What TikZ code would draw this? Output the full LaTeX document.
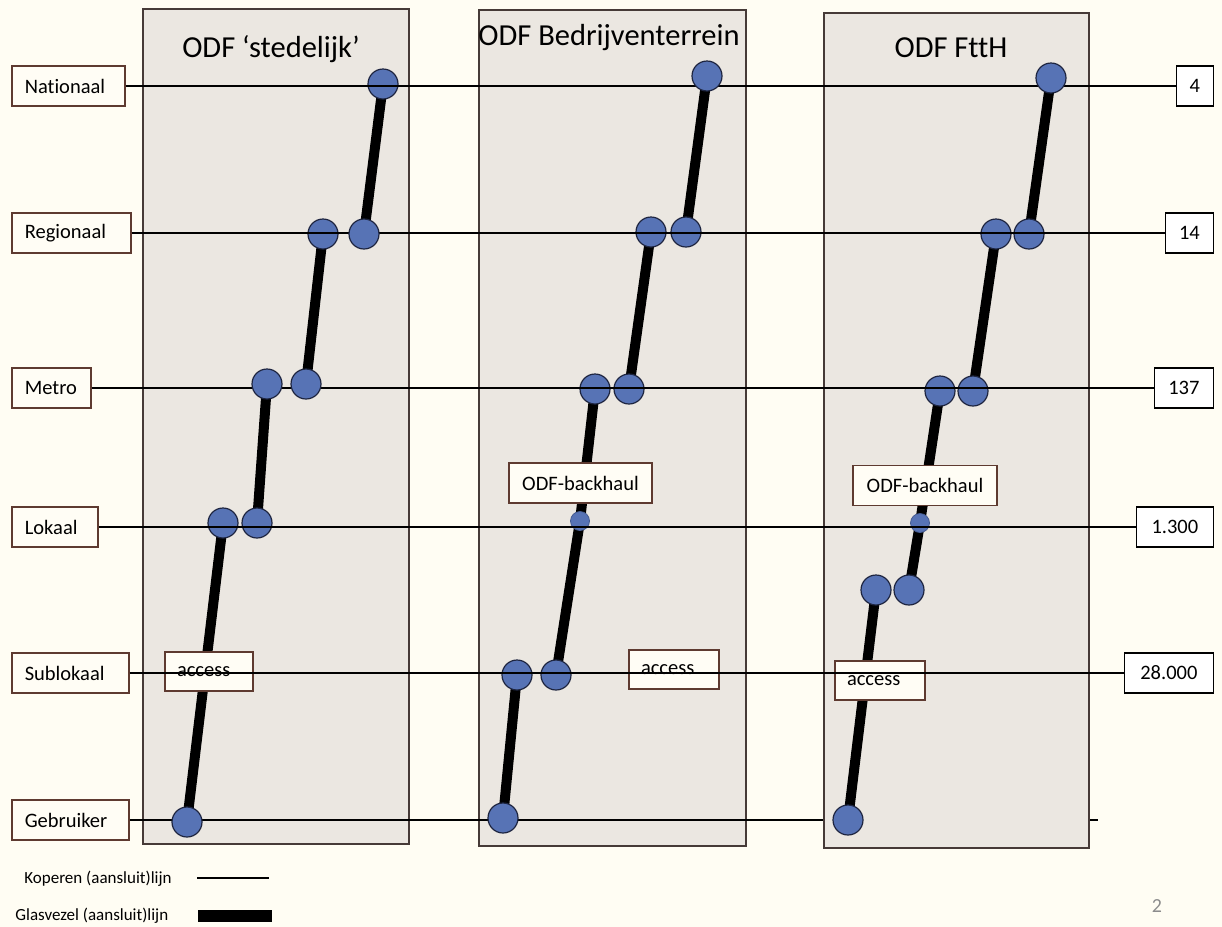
\documentclass[tikz,border=0pt]{standalone}
\usepackage{fontspec}
\setmainfont{Carlito}[Ligatures=NoCommon]
\usetikzlibrary{calc}

\definecolor{bgcream}{HTML}{FFFDF3}
\definecolor{panelfill}{HTML}{EBE7E1}
\definecolor{panelline}{HTML}{463A37}
\definecolor{lblline}{HTML}{5E3A30}
\definecolor{boxfill}{HTML}{FFFDF5}
\definecolor{hubfill}{HTML}{5773B5}
\definecolor{hubline}{HTML}{1E2540}
\definecolor{pagegray}{HTML}{8C8C8C}

\pgfdeclarelayer{panels}
\pgfdeclarelayer{fibrelayer}
\pgfdeclarelayer{copperlayer}
\pgfdeclarelayer{toplayer}
\pgfsetlayers{panels,fibrelayer,main,copperlayer,toplayer}

\begin{document}
\begin{tikzpicture}[x=0.5pt,y=-0.5pt,
  panel/.style={draw=panelline,fill=panelfill,line width=1pt,inner sep=0pt},
  lvl/.style={draw=lblline,fill=boxfill,line width=0.8pt,inner xsep=6.5pt,inner ysep=0pt,
    minimum height=20pt,anchor=west,align=left,font=\fontsize{10.25pt}{12pt}\selectfont},
  numbox/.style={draw=black,fill=white,line width=0.6pt,inner sep=0pt,
    minimum height=20pt,anchor=east,font=\fontsize{10.25pt}{12pt}\selectfont},
  tagbox/.style={draw=lblline,fill=boxfill,line width=0.8pt,inner xsep=6pt,inner ysep=0pt,
    minimum height=19.5pt,align=left,font=\fontsize{10.25pt}{12pt}\selectfont},
  bhbox/.style={draw=lblline,fill=boxfill,line width=0.8pt,inner sep=0pt,
    minimum height=20pt,font=\fontsize{10.25pt}{12pt}\selectfont},
  hub/.style={circle,fill=hubfill,draw=hubline,line width=0.6pt,inner sep=0pt,minimum size=15pt},
  minihub/.style={circle,fill=hubfill,draw=hubfill!80!black,line width=0.4pt,inner sep=0pt,minimum size=9.5pt},
  fibre/.style={line width=5pt,black},
  copper/.style={line width=0.75pt,black},
  paneltitle/.style={anchor=base,font=\fontsize{15.25pt}{18pt}\selectfont},
  legendtext/.style={anchor=west,inner sep=0pt,font=\fontsize{8.5pt}{10pt}\selectfont}
]

% page and the three ODF panels
\begin{pgfonlayer}{panels}
  \fill[bgcream] (0,0) rectangle (1222,927);
  \node[panel,minimum width=133pt,minimum height=417.5pt] (p1) at (276,426.5) {};
  \node[panel,minimum width=133.5pt,minimum height=418pt] (p2) at (612.5,428) {};
  \node[panel,minimum width=132.5pt,minimum height=417.5pt] (p3) at (956.5,430.5) {};
\end{pgfonlayer}
\useasboundingbox (0,0) rectangle (1222,927);

% panel titles
\node[paneltitle] (t1) at (271,57) {ODF ‘stedelijk’};
\node[paneltitle] (t2) at (609,45) {ODF Bedrijventerrein};
\node[paneltitle] (t3) at (951,57) {ODF FttH};

% network levels (left)
\node[lvl,text width=43.5pt] (nat) at (11,86) {Nationaal};
\node[lvl,text width=46.5pt] (reg) at (11,233) {Regionaal};
\node[lvl,text width=26.5pt] (met) at (11,388) {Metro};
\node[lvl,text width=30pt]   (lok) at (11,527) {Lokaal};
\node[lvl,text width=45.5pt] (sub) at (11,673) {Sublokaal};
\node[lvl,text width=45.5pt] (geb) at (11,820) {Gebruiker};

% counts per level (right)
\node[numbox,minimum width=18.5pt] (n-nat) at (1214,86) {4};
\node[numbox,minimum width=24pt]   (n-reg) at (1214,233) {14};
\node[numbox,minimum width=29.5pt] (n-met) at (1214,388) {137};
\node[numbox,minimum width=38.5pt] (n-lok) at (1214,527) {1.300};
\node[numbox,minimum width=44.5pt] (n-sub) at (1214,673) {28.000};

% hubs with the level line drawn across them
\node[hub] (a-nat) at (383,84) {};
\node[hub] (a-ra) at (323,234) {};
\node[hub] (a-lb) at (257,523) {};
\node[hub] (a-la) at (223,523) {};

\node[hub] (b-rb) at (686,232) {};
\node[hub] (b-ra) at (651,232) {};
\node[hub] (b-mb) at (629,389) {};
\node[hub] (b-ma) at (595,389) {};
\node[minihub] (b-lok) at (580,521) {};
\node[hub] (b-sb) at (556,675) {};
\node[hub] (b-sa) at (517,675) {};

\node[hub] (c-rb) at (1029,234) {};
\node[hub] (c-ra) at (996,234) {};
\node[hub] (c-mb) at (973,391) {};
\node[hub] (c-ma) at (940,391) {};
\node[minihub] (c-lok) at (920,523) {};
\node[hub] (c-pb) at (909,590) {};
\node[hub] (c-pa) at (876,590) {};

% hubs that sit on top of the level line
\begin{pgfonlayer}{toplayer}
  \node[hub] (a-rb) at (364,234) {};
  \node[hub] (a-mb) at (306,384) {};
  \node[hub] (a-ma) at (267,384) {};
  \node[hub] (a-geb) at (187,822) {};
  \node[hub] (b-nat) at (707,76) {};
  \node[hub] (b-geb) at (503,818) {};
  \node[hub] (c-nat) at (1051,78) {};
  \node[hub] (c-geb) at (848,820) {};
\end{pgfonlayer}

% access and backhaul labels
\node[tagbox,text width=32pt] (a-acc) at (209,671.5) {access};
\node[bhbox,minimum width=71.5pt] (b-bh) at (580.5,483) {ODF-backhaul};
\node[tagbox,text width=33pt] (b-acc) at (674,669.5) {access};
\node[bhbox,minimum width=72pt] (c-bh) at (925,485.5) {ODF-backhaul};
\node[tagbox,text width=33pt] (c-acc) at (880,680.5) {access};

% glass fibre chains
\begin{pgfonlayer}{fibrelayer}
  \draw[fibre] (a-nat.center) -- (a-rb.center);
  \draw[fibre] (a-ra.center) -- (a-mb.center);
  \draw[fibre] (a-ma.center) -- (a-lb.center);
  \draw[fibre] (a-la.center) -- (a-geb.center);

  \draw[fibre] (b-nat.center) -- (b-rb.center);
  \draw[fibre] (b-ra.center) -- (b-mb.center);
  \draw[fibre] (b-ma.center) -- (b-lok.center);
  \draw[fibre] (b-lok.center) -- (b-sb.center);
  \draw[fibre] (b-sa.center) -- (b-geb.center);

  \draw[fibre] (c-nat.center) -- (c-rb.center);
  \draw[fibre] (c-ra.center) -- (c-mb.center);
  \draw[fibre] (c-ma.center) -- (c-lok.center);
  \draw[fibre] (c-lok.center) -- (c-pb.center);
  \draw[fibre] (c-pa.center) -- (c-geb.center);
\end{pgfonlayer}

% copper level lines
\begin{pgfonlayer}{copperlayer}
  \draw[copper] (nat) -- (n-nat);
  \draw[copper] (reg) -- (n-reg);
  \draw[copper] (met) -- (n-met);
  \draw[copper] (lok) -- (n-lok);
  \draw[copper] (sub) -- (n-sub);
  \draw[copper] (geb) -- (geb -| p3.west);
  \coordinate (tick-a) at (geb -| p3.east);
  \draw[copper] (tick-a) -- ++(8,0);
\end{pgfonlayer}

% legend
\node[legendtext] (leg-cu) at (24,879) {Koperen (aansluit)lijn};
\coordinate (leg-cu-a) at (197,878);
\coordinate (leg-cu-b) at (269,878);
\draw[copper] (leg-cu-a) -- (leg-cu-b);
\node[legendtext] (leg-gl) at (15,916) {Glasvezel (aansluit)lijn};
\coordinate (leg-gl-a) at (198,916);
\coordinate (leg-gl-b) at (272,916);
\draw[line width=6pt,black] (leg-gl-a) -- (leg-gl-b);

% slide number
\node[text=pagegray,font=\fontsize{10pt}{12pt}\selectfont] (pageno) at (1157,906) {2};

\end{tikzpicture}
\end{document}
